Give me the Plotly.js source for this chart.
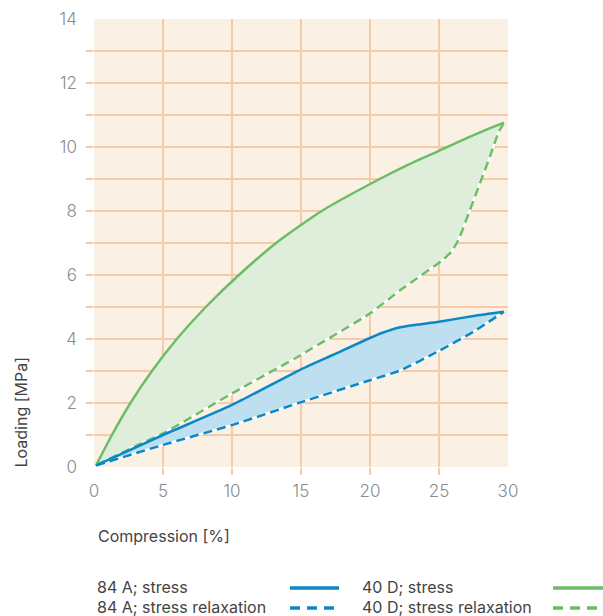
<!DOCTYPE html>
<html>
<head>
<meta charset="utf-8">
<script src="https://cdn.plot.ly/plotly-3.0.1.min.js"></script>
<style>html,body{margin:0;padding:0;background:#fff;}#chart{width:603px;height:616px;}</style>
</head>
<body>
<div id="chart"></div>
<script>
// Data
const compA_stress = [0.15, 5, 10, 14.9, 17.3, 20.8, 22.2, 25, 27.5, 29.7];
const loadA_stress = [0.05, 1.0, 1.94, 3.03, 3.5, 4.18, 4.37, 4.54, 4.72, 4.85];
const compA_relax = [0.15, 5, 10, 14.9, 20.05, 22.2, 25, 27.5, 29.7];
const loadA_relax = [0.05, 0.69, 1.31, 2.01, 2.72, 3.02, 3.63, 4.23, 4.85];
const compD_stress = [0.15, 1.3, 2.64, 4.2, 6.0, 8.1, 10.5, 13.2, 16.5, 20.7, 22.6, 25, 27.5, 29.7];
const loadD_stress = [0.05, 1, 2, 3, 4, 5, 6, 7, 8, 9, 9.41, 9.88, 10.37, 10.76];
const compD_relax = [0.15, 3, 5, 10, 15, 15.8, 20, 22.2, 25.2, 25.9, 26.4, 27.24, 27.97, 28.69, 29.29, 29.7];
const loadD_relax = [0.05, 0.65, 1.05, 2.3, 3.5, 3.71, 4.8, 5.53, 6.45, 6.73, 7.09, 8.03, 8.87, 9.7, 10.43, 10.76];
const legendLabels = ["84 A; stress", "84 A; stress relaxation", "40 D; stress", "40 D; stress relaxation"];
const xLabels = [0, 5, 10, 15, 20, 25, 30];
const yLabels = [0, 2, 4, 6, 8, 10, 12, 14];
const xGrid = [5, 10, 15, 20, 25];
const yGrid = [1, 2, 3, 4, 5, 6, 7, 8, 9, 10, 11, 12, 13];

const blue = '#0a88c6', green = '#6cbd66';
const blueFill = '#bddff0', greenFill = '#dfeeda';
const gridC = '#f8c9a6';
const FONT = 'Inter, Roboto, sans-serif';
const SM = 0.6;

function poly(x1, y1, x2, y2) {
  return { x: x1.concat(x2.slice().reverse()), y: y1.concat(y2.slice().reverse()) };
}
const pD = poly(compD_stress, loadD_stress, compD_relax, loadD_relax);
const pA = poly(compA_stress, loadA_stress, compA_relax, loadA_relax);

const onMain = t => Object.assign({xaxis: 'x', yaxis: 'y', hoverinfo: 'skip'}, t);
const onTop = t => Object.assign({xaxis: 'x2', yaxis: 'y2', hoverinfo: 'skip'}, t);
const traces = [
  onMain({x: pD.x, y: pD.y, mode: 'lines', fill: 'toself', fillcolor: greenFill, line: {width: 0, shape: 'spline', smoothing: SM}}),
  onMain({x: pA.x, y: pA.y, mode: 'lines', fill: 'toself', fillcolor: blueFill, line: {width: 0, shape: 'spline', smoothing: SM}}),
  onTop({x: compD_relax, y: loadD_relax, mode: 'lines', line: {color: '#ffffff', width: 2.5, shape: 'spline', smoothing: SM}}),
  onTop({x: compD_relax, y: loadD_relax, mode: 'lines', name: legendLabels[3], line: {color: green, width: 2.5, dash: '9px,5px', shape: 'spline', smoothing: SM}}),
  onTop({x: compA_relax, y: loadA_relax, mode: 'lines', line: {color: '#ffffff', width: 2.5, shape: 'spline', smoothing: SM}}),
  onTop({x: compA_relax, y: loadA_relax, mode: 'lines', name: legendLabels[1], line: {color: blue, width: 2.5, dash: '9px,5px', shape: 'spline', smoothing: SM}}),
  onTop({x: compD_stress, y: loadD_stress, mode: 'lines', name: legendLabels[2], line: {color: green, width: 2.5, shape: 'spline', smoothing: SM}}),
  onTop({x: compA_stress, y: loadA_stress, mode: 'lines', name: legendLabels[0], line: {color: blue, width: 2.5, shape: 'spline', smoothing: SM}})
];

const L = 94, W = 414, B = 467, H = 448;
const px = v => (v - L) / W;
const py = v => (B - v) / H;

const shapes = [
  {type: 'line', xref: 'paper', yref: 'paper', x0: px(290), x1: px(339), y0: py(588), y1: py(588), line: {color: blue, width: 3.5}},
  {type: 'line', xref: 'paper', yref: 'paper', x0: px(290), x1: px(339), y0: py(608), y1: py(608), line: {color: blue, width: 3.5, dash: '10px,7px'}},
  {type: 'line', xref: 'paper', yref: 'paper', x0: px(553), x1: px(603), y0: py(588), y1: py(588), line: {color: green, width: 3.5}},
  {type: 'line', xref: 'paper', yref: 'paper', x0: px(553), x1: px(603), y0: py(608), y1: py(608), line: {color: green, width: 3.5, dash: '10px,7px'}}
];
const txt = (t, x, y, extra) => Object.assign({text: t, xref: 'paper', yref: 'paper', x: px(x), y: py(y), xanchor: 'left', yanchor: 'middle', showarrow: false, font: {family: FONT, size: 16, color: '#444'}}, extra || {});
const annotations = [
  txt(legendLabels[0], 95, 587),
  txt(legendLabels[1], 95, 607),
  txt(legendLabels[2], 360, 587),
  txt(legendLabels[3], 360, 607),
  txt('Compression [%]', 96, 536),
  txt('Loading [MPa]', 20, 470, {textangle: -90, xanchor: 'center', yanchor: 'bottom'})
];

const tf = {family: FONT, size: 17, color: '#8c8c8c', weight: 300};
const layout = {
  width: 603, height: 616,
  margin: {l: L, r: 603 - L - W, t: B - H, b: 616 - B, pad: 0},
  paper_bgcolor: '#ffffff', plot_bgcolor: '#fbf0e4',
  showlegend: false,
  font: {family: FONT, size: 17, color: '#8c8c8c'},
  xaxis: {range: [0, 30], tickvals: xGrid, showticklabels: false, showgrid: true, gridcolor: gridC, gridwidth: 1.3,
          zeroline: false, showline: false, ticks: 'outside', ticklen: 7, tickcolor: gridC, tickwidth: 1.3, fixedrange: true},
  yaxis: {range: [0, 14], tickvals: yGrid, showticklabels: false, showgrid: true, gridcolor: gridC, gridwidth: 1.3,
          zeroline: false, showline: false, ticks: 'outside', ticklen: 7, tickcolor: gridC, tickwidth: 1.3, fixedrange: true},
  xaxis2: {overlaying: 'x', anchor: 'y2', side: 'bottom', range: [0, 30], tickvals: xLabels, ticktext: xLabels.map(String),
           showgrid: false, zeroline: false, showline: false, ticks: '', ticklabelstandoff: 12, tickfont: tf, fixedrange: true},
  yaxis2: {overlaying: 'y', anchor: 'x2', side: 'left', range: [0, 14], tickvals: yLabels, ticktext: yLabels.map(String),
           showgrid: false, zeroline: false, showline: false, ticks: '', ticklabelstandoff: 16, tickfont: tf, fixedrange: true},
  shapes: shapes, annotations: annotations
};

Plotly.newPlot('chart', traces, layout, {displayModeBar: false, staticPlot: true});
</script>
</body>
</html>
